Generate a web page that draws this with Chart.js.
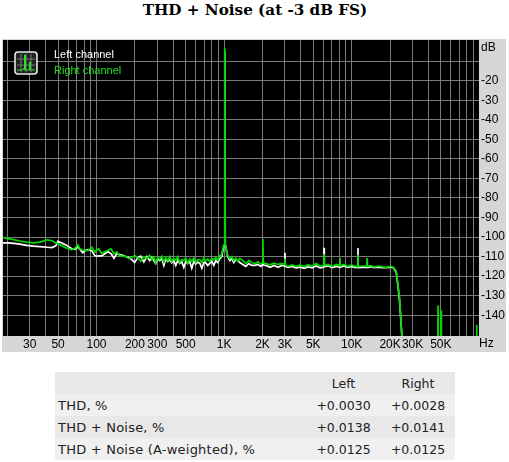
<!DOCTYPE html>
<html>
<head>
<meta charset="utf-8">
<title>THD + Noise</title>
<script src="https://cdn.jsdelivr.net/npm/chart.js@4"></script>
<style>
  body { margin: 0; background: #fff; width: 509px; height: 462px; overflow: hidden; position: relative; }
  h1 { position: absolute; left: 0; width: 510px; top: 0; margin: 0; text-align: center; font: bold 15.2px "DejaVu Serif", serif; line-height: 20px; color: #000; }
  #panel { position: absolute; left: 2px; top: 39px; width: 504px; height: 313px; background: #d6d6d6; }
  canvas { position: absolute; left: 0; top: 0; }
  .lbl { position: absolute; font: 11px "Liberation Sans", sans-serif; white-space: nowrap; line-height: 14px; }
  .unit { font-size: 12px; }
  #icon { position: absolute; left: 14px; top: 51px; }
  table { position: absolute; left: 55px; top: 372px; width: 400px; border-collapse: collapse; table-layout: fixed; font: 12.5px "DejaVu Sans", sans-serif; color: #222; }
  td { height: 22px; padding: 0; text-align: center; }
  td:first-child { text-align: left; padding-left: 3px; font-size: 13px; letter-spacing: 0.22px; }
  tr:nth-child(odd) { background: #e8e8e8; }
  tr:nth-child(even) { background: #f0f0f0; }
</style>
</head>
<body>
<h1>THD + Noise (at -3 dB FS)</h1>
<div id="panel"><canvas id="thdChart" width="504" height="313"></canvas></div>
<svg id="icon" width="24" height="24" viewBox="0 0 24 24">
  <rect x="1" y="1" width="22" height="22" rx="3" fill="#222" stroke="#e8e8e8" stroke-width="1.6"/>
  <path d="M3 8H21M3 14H21M7 3V21M12 3V21M17 3V21" stroke="#777" stroke-width="1"/>
  <path d="M3 19H9L10 17L11 19H10.500V4H11.500V19H15.500V11H16.500V19H21" stroke="#2ee02e" stroke-width="1" fill="none"/>
</svg>
<span class="lbl" style="left:54px;top:47px;color:#fff">Left channel</span>
<span class="lbl" style="left:54px;top:63px;color:#1fe01f">Right channel</span>
<span class="lbl unit" style="left:481px;top:40px;color:#000">dB</span>
<span class="lbl unit" style="left:479px;top:336px;color:#000">Hz</span>
<table>
  <colgroup><col style="width:251px"><col style="width:75px"><col style="width:74px"></colgroup>
  <tr><td></td><td>Left</td><td>Right</td></tr>
  <tr><td>THD, %</td><td>+0.0030</td><td>+0.0028</td></tr>
  <tr><td>THD + Noise, %</td><td>+0.0138</td><td>+0.0141</td></tr>
  <tr><td>THD + Noise (A-weighted), %</td><td>+0.0125</td><td>+0.0125</td></tr>
</table>
<script>
const freqHz = [
  18.5, 20.3, 22.5, 25, 28.4, 32, 36, 41, 44.8, 48,
  49.8, 53.5, 57.5, 64, 67.6, 71.5, 74, 78, 81, 85.5,
  91.8, 97, 100.5, 104, 110, 116, 123, 130, 137, 144,
  152, 161, 170, 179, 189, 199, 211, 222, 235, 248,
  261, 271, 281, 291, 302, 313, 325, 337, 349, 362,
  375, 389, 403, 418, 433, 449, 466, 483, 501, 519,
  538, 558, 579, 600, 622, 645, 669, 693, 719, 745,
  773, 801, 831, 861, 893, 926, 943, 960, 977, 995,
  1005, 1013, 1021, 1032, 1050, 1069, 1108, 1149, 1191, 1235,
  1281, 1328, 1402, 1480, 1563, 1650, 1742, 1840, 1943, 2000,
  2015, 2030, 2130, 2290, 2465, 2650, 2800, 2985, 3000, 3015,
  3170, 3420, 3660, 3930, 4240, 4555, 4900, 5270, 5670, 6040,
  6070, 6100, 6530, 7040, 7550, 8060, 8090, 8120, 8680, 9330,
  10020, 10600, 11150, 11200, 11250, 12000, 13150, 13200, 13250, 14100,
  15100, 16200, 17500, 18700, 20100, 21200, 22340, 23030, 23700, 24150,
  24700, 26000, 47300, 47500, 47700, 50100, 50300, 50500, 95300, 95500, 95700
];

const leftDb = [
  -103, -103, -103.2, -103.6, -104.2, -104.6, -104.9, -105.2, -105.4, -104.5,
  -102.2, -103, -104, -106, -106.3, -105, -106.2, -108, -107, -106.4,
  -107, -109.5, -109.8, -109.6, -109.6, -108.5, -107.5, -108.5, -110.8, -108.5,
  -109, -109.3, -110, -110.5, -111.5, -113, -110.5, -109.8, -112.7, -110,
  -112, -110.4, -112, -113.5, -111, -112, -111, -114.5, -111.2, -112.5,
  -111.5, -113.2, -112, -114.5, -112, -113.5, -112.6, -115.5, -112.5, -113.5,
  -112.5, -116, -112.5, -113.8, -112.8, -113.4, -116, -113, -113.2, -114.5,
  -113.5, -112.3, -114.5, -112, -113, -111, -110.5, -110, -107, -104.5,
  -104.5, -5, -104.5, -105, -108, -110, -112, -111, -113, -111.5,
  -112, -113, -114, -115, -113.5, -114.5, -114.5, -114, -115, -114,
  -113.5, -114.3, -114.5, -115.5, -114.5, -115.5, -114.5, -114.8, -108, -115,
  -115.5, -115, -115.8, -115.4, -116, -115.3, -115.7, -114.8, -115.8, -115.4,
  -105.5, -115.2, -114.8, -115.6, -115, -115.4, -112, -115.5, -114.8, -115.5,
  -115, -115.6, -115.4, -105.6, -115.6, -115.5, -115.5, -113, -115.5, -115.2,
  -115.6, -115.4, -115.7, -115.7, -115.4, -115.7, -118, -125, -132, -140,
  -150, -158, -158, -158, -158, -158, -158, -158, -158, -158, -158
];

const rightDb = [
  -100.2, -100.8, -101.3, -102, -102.6, -103, -102.6, -101.4, -101.9, -103,
  -103.4, -104.5, -105.5, -106.5, -105.8, -104, -106, -106.7, -106.8, -106.9,
  -105.2, -107.8, -106.5, -106, -108.4, -107.5, -106.7, -106, -108.6, -107.6,
  -109.6, -109.7, -109.8, -111, -110.5, -109.5, -110.6, -112.4, -110, -111,
  -109.3, -111.5, -110.2, -113, -110.4, -111.3, -109.8, -112.8, -110.5, -112,
  -110, -112.6, -111, -111.8, -110, -113, -111.6, -112, -110.8, -113.4,
  -111.2, -112.4, -110.7, -113, -111.6, -111.5, -113, -110.6, -112.3, -111.2,
  -112.5, -110.8, -111.6, -110.5, -112, -109.5, -110, -108.5, -106, -104,
  -104, -3.3, -104, -105, -108, -109.5, -111, -110, -112, -110.8,
  -112.4, -110.8, -112, -113.5, -112, -113, -113.6, -112.6, -113.8, -113.2,
  -101, -113.2, -113.5, -114.2, -113.4, -114, -113.6, -113.8, -111, -114.3,
  -115, -114.2, -115, -114.4, -115, -114.2, -114.8, -113.5, -114.9, -114.5,
  -108.7, -114.5, -114, -115, -114, -114.6, -110.7, -114.8, -114, -115,
  -114.2, -115, -114.9, -109, -115.2, -114.8, -114.8, -110.7, -115, -114.6,
  -115.4, -114.8, -115.2, -115.5, -115, -115.4, -117.5, -124, -131, -139.6,
  -150, -158, -158, -135, -158, -158, -137.5, -158, -158, -145, -158
];

// grid lines on the x axis, only some of them carry a label
const xGridHz = [
  20, 30, 40, 50, 60, 70, 80, 90,
  100, 200, 300, 400, 500, 600, 700, 800, 900,
  1000, 2000, 3000, 4000, 5000, 6000, 7000, 8000, 9000,
  10000, 20000, 30000, 40000, 50000, 60000, 70000, 80000, 90000
];
const xTickHz = [30, 50, 100, 200, 300, 500, 1000, 2000, 3000, 5000, 10000, 20000, 30000, 50000];
const xTickText = ['30', '50', '100', '200', '300', '500', '1K', '2K', '3K', '5K', '10K', '20K', '30K', '50K'];
const yGridDb = [-10, -20, -30, -40, -50, -60, -70, -80, -90, -100, -110, -120, -130, -140];

const gridColor = '#7a7a7a';
const tickFont = { family: '"Liberation Sans", sans-serif', size: 12 };

// black plot background, the panel round it is plain css
const plotBackground = {
  id: 'plotBackground',
  beforeDraw(chart) {
    const a = chart.chartArea;
    chart.ctx.fillStyle = '#000';
    chart.ctx.fillRect(a.left, a.top, a.width, a.height);
  }
};

// fixed axis sizes, no extra room for the outer tick labels
function fixAxis(scale, size) {
  if (scale.isHorizontal()) scale.height = size;
  else scale.width = size;
  scale.paddingTop = scale.paddingBottom = scale.paddingLeft = scale.paddingRight = 0;
}

new Chart(document.getElementById('thdChart'), {
  type: 'line',
  data: {
    datasets: [
      {
        label: 'Left channel',
        data: freqHz.map((f, i) => ({ x: f, y: leftDb[i] })),
        borderColor: '#ffffff',
        order: 2
      },
      {
        label: 'Right channel',
        data: freqHz.map((f, i) => ({ x: f, y: rightDb[i] })),
        borderColor: '#00d800',
        order: 1
      }
    ]
  },
  options: {
    responsive: false,
    animation: false,
    devicePixelRatio: 1,
    layout: { padding: { left: 1, top: 1, right: 0, bottom: 0 } },
    elements: {
      point: { radius: 0 },
      line: { borderWidth: 1.7, tension: 0, borderJoinStyle: 'miter' }
    },
    plugins: {
      legend: { display: false },
      tooltip: { enabled: false }
    },
    scales: {
      x: {
        type: 'logarithmic',
        min: 18.5,
        max: 99500,
        afterBuildTicks(scale) {
          scale.ticks = xGridHz.map(v => ({ value: v }));
        },
        afterFit(scale) { fixAxis(scale, 16); },
        grid: { color: gridColor, drawTicks: false },
        border: { display: false },
        ticks: {
          autoSkip: false,
          maxRotation: 0,
          padding: 1,
          color: '#000',
          font: tickFont,
          callback(v) {
            const i = xTickHz.indexOf(v);
            return i < 0 ? '' : xTickText[i];
          }
        }
      },
      y: {
        position: 'right',
        min: -150.6,
        max: 0.8,
        afterBuildTicks(scale) {
          scale.ticks = yGridDb.map(v => ({ value: v }));
        },
        afterFit(scale) { fixAxis(scale, 27); },
        grid: { color: gridColor, drawTicks: false },
        border: { display: false },
        ticks: {
          padding: 2,
          color: '#000',
          font: tickFont,
          callback: v => (v === -10 ? '' : String(v))
        }
      }
    }
  },
  plugins: [plotBackground]
});
</script>
</body>
</html>
